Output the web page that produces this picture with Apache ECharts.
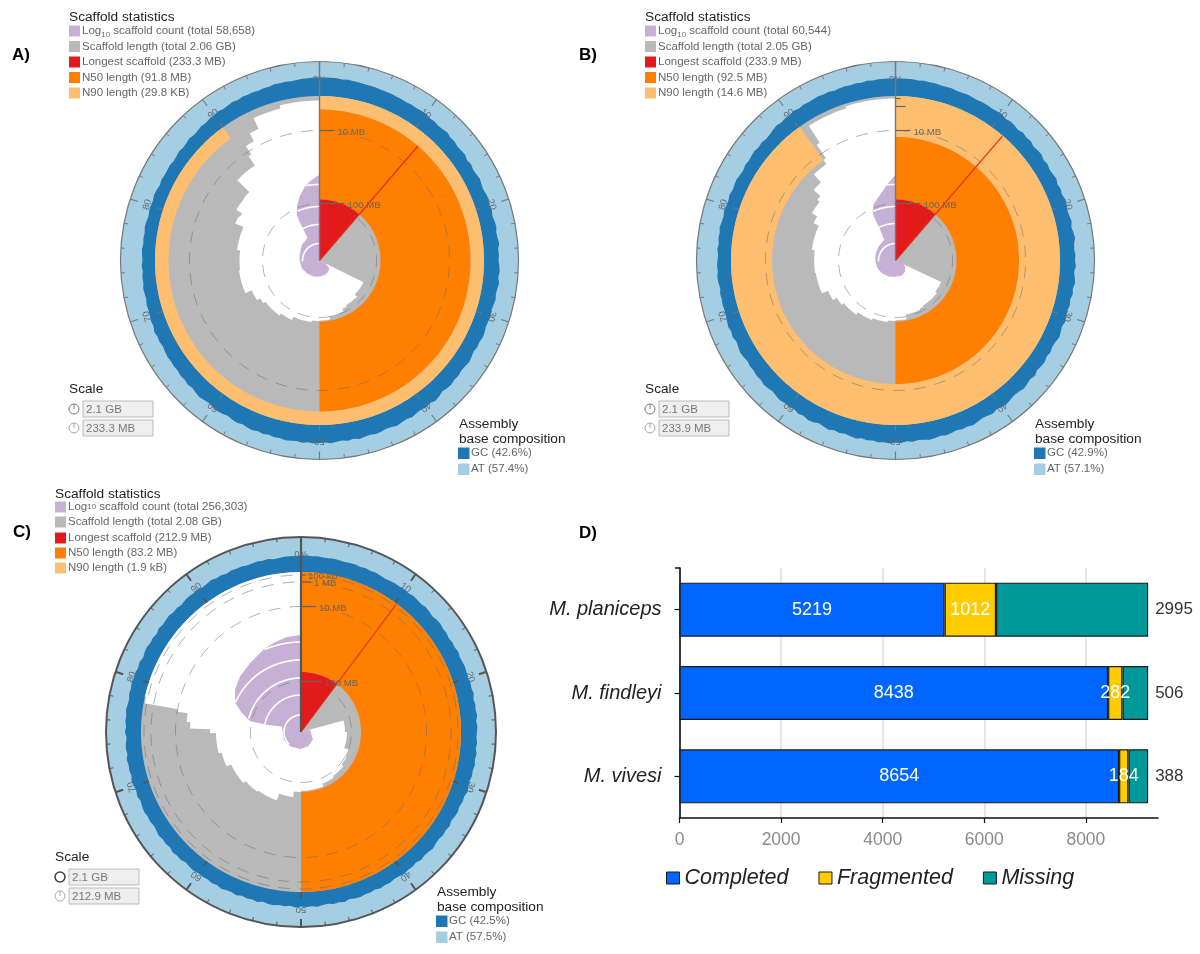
<!DOCTYPE html>
<html><head><meta charset="utf-8">
<style>html,body{margin:0;padding:0;background:#fff}#c{width:1200px;height:954px}</style>
<script src="https://cdn.jsdelivr.net/npm/echarts@6/dist/echarts.min.js"></script>
</head><body><div id="c"></div>
<script>
// ---------- Snail plot data (percent of assembly, radial position on the snail scale) ----------
const percentTicks = [0,10,20,30,40,50,60,70,80,90];
const percentLabels = ['0%','10','20','30','40','50','60','70','80','90'];

// GC outline, one reading per half percent
const gcA = [183,183,183,183,182.5,183,182.5,182.5,182,182,182,181.5,181.5,181.5,181,181,180.5,181,180.5,181,
181.5,180,180.5,179.5,180,181,179.5,180,179,179.5,180,178.5,179.5,178.5,179,180,179,178.5,179.5,180,
179,179.5,178.5,179.5,180,179,179.5,180.5,179,179.5,179,180,180.5,179.5,181,180,179.5,180.5,179.5,179,
180,179.5,179,180,180.5,179.5,180,179,180,181,180,179.5,180.5,180,181,180.5,179.5,181,182,180.5,
181.5,180.5,181,182,181,181.5,182.5,181.5,181,182,182.5,181.5,182,183,181.5,182.5,181.5,182,183,182,
182.5,183,182,183,182,182.5,183,182,182.5,181.5,182.5,181.5,182.5,182,181,182,181.5,180.5,181.5,182,
181.5,180.5,181,182,181,180,181,180,180.5,179.5,180,179.5,180,179.5,178.5,179.5,179,180,178.5,179,
178.5,178,178.5,177.5,178,178.5,177.5,178,177,178,177,177.5,178,177,177.5,177,178,177.5,176.5,177.5,
177.5,177,178,177.5,176.5,177.5,177,177,177.5,176.5,177,178,177,177.5,178.5,177.5,178,179,178.5,179.5,
179.5,180.5,179.5,180,181,180,181,180.5,181,180.5,181,181,182,181.5,182,181.5,182,182.5,182.5,183];
const gcB = [182,182,182,182,181.5,182,181.5,181.5,181,181,181,180.5,180.5,181,180.5,180,180.5,180.5,180,180.5,
181,179.5,180.5,180,179,180.5,179.5,180.5,179,180,180.5,179,180,179,179.5,180.5,179,180,179,180.5,
180,179,179.5,180.5,179,180,181,179.5,179,180,179.5,180.5,179,180,181,179.5,180.5,179,180,179,
179.5,180.5,179,180,181,179.5,179,180,179,180.5,180,179,181,179.5,180.5,181.5,180,179.5,180.5,181.5,
181,180,181.5,180.5,180,181,182,181,181.5,180.5,181.5,182,181,182,182.5,181.5,181,182,181,182.5,
182,183,182,182.5,181.5,182,181,182.5,181.5,180.5,181.5,180.5,182,181,180,181.5,182,180.5,181.5,180,
181,180.5,181.5,180.5,179.5,180.5,181,180,180.5,179.5,180,179,180,180.5,179.5,178.5,180,179,180,179,
178.5,178,178.5,178,178.5,177.5,178.5,179,178,178.5,178,177.5,178.5,177.5,178.5,178,179,178,177.5,178.5,
178,177.5,178.5,177.5,178,178.5,177.5,177,178,177.5,178,178.5,177.5,178.5,177.5,178,179,180,179,180,
180,181,180,181,180.5,181,181.5,181,181.5,180.5,181,181.5,181,181.5,181,182,181.5,182,182,182];
const gcC = [176.5,176.5,176,176.5,176,176,176.5,176,175.5,176,176,175.5,176,175.5,176,175.5,175,175.5,176,175.5,
176,175.5,176.5,176,175.5,176.5,176,175,176,176.5,175.5,176,175,176,175.5,176.5,175.5,176,176.5,176,
175.5,176.5,176,177,175.5,176.5,176,177,175.5,176.5,176,175.5,176.5,175.5,177,176,177,176,176.5,175.5,
176,177,175.5,176,175,176,175.5,174.5,176,175,175.5,174.5,175,176,175,174.5,175.5,174,175,174.5,
175.5,174.5,174,175,174.5,175.5,174,175,174.5,175.5,175,174,175.5,174.5,175,174,174.5,175.5,174.5,175,
174.5,175.5,174,175,174.5,175.5,175,174,175.5,174.5,175,174,175.5,174.5,175,176,174.5,175.5,174.5,175,
174.5,175.5,175,174,175.5,175,176,174.5,175.5,175,176,175,174.5,175.5,175,176,175.5,174.5,176,175,
175.5,176.5,175,176,175.5,176.5,175,176,175.5,174.5,176,175,176,175.5,176.5,175.5,175,176,175.5,176.5,
175.5,176,175,176,174.5,175.5,176,175,175.5,174.5,176,175,175.5,176,175,175.5,174.5,175.5,176,175.5,
176,175,175.5,176.5,175.5,176,175,176,175.5,176,175,175.5,176,175.5,176,175,175.5,176,176,176];

const scaffoldEdgeA = [[32.3,49],[37.2,52],[41.5,53.5],[43,56.4],[47.2,60],[50,60.5],[52,62],[56.9,65.5],[60,68],[64.6,70.4],[66,74],[68.4,81],[73.1,80],[77,83],[81.6,92],[83,90.7],[83.7,97.5],[86,98],[87.3,115],[90.5,126],[90.9,136],[92,145],[93.1,157],[96,160],[100,163]];
const scaffoldEdgeB = [[32,50.5],[35.6,52.7],[41.3,53.9],[42.6,55],[47,59.7],[50,60.5],[52,62],[56,64],[60,67],[64,69.6],[66,74],[68.3,80.6],[72.5,81.3],[77,84.3],[81.8,90],[83.2,96],[85.5,99],[86.3,108],[87.9,118.6],[90.1,123.7],[90.5,140],[90.9,160],[95,162],[100,163]];
const scaffoldEdgeC = [[20.8,44],[25,46],[30.7,50.5],[33,52],[35.8,54.5],[40,56],[43.8,58.8],[50,60],[51.9,65.4],[55.4,72.5],[60,74],[63.5,77],[68.1,82],[71,85],[74.8,91],[75.5,111],[76.4,114.8],[77.6,125],[77.9,158.7],[78.5,160],[100,160]];

const countEdgeA = [[32,0],[32.2,6.3],[35.6,12.3],[39,14.2],[44,15.4],[49.3,16],[55.7,17],[62.5,17.9],[68.5,19.3],[75.5,20],[80.6,21],[86.6,23.6],[92.2,25.4],[92.4,34.6],[92.4,44],[92.7,51],[93.7,58.6],[95.2,67],[96.9,75.4],[98.5,81],[100,85.7]];
const countEdgeB = [[26,0],[26.2,6.3],[34,11.4],[38.5,14.6],[43.6,16.3],[50,16.3],[56.5,17.5],[63,18.6],[68.6,19.6],[75,20.3],[80.7,21],[86,22],[92,23.6],[92.6,34.3],[92.7,47.3],[93,54],[94,59.9],[95.9,66],[98.2,76],[100,85.7]];
const countEdgeC = [[20.8,0],[21,9.3],[34,14],[42.5,16],[50.9,17],[60.4,18],[68.3,18.7],[79.5,20],[78.3,35],[78.3,52],[80,62.3],[81.6,72],[84.1,78.4],[86.8,82.6],[89.9,85.8],[93.2,90.5],[95.2,93.2],[97.6,96],[100,97]];

const countArcsA = [[17,74],[36,92.5],[54,93.4],[76,97.2]];
const countArcsB = [[17,74],[37,92.7],[54,93.1],[76,98.2]];
const countArcsC = [[17,62],[37,78.4],[54,79],[72,81.7],[90,93.4]];

const scaleTicksA = [{r:130,len:15,label:'10 MB'},{r:57,len:25,label:'100 MB'}];
const scaleTicksB = [{r:162,len:5,label:''},{r:154,len:10,label:''},{r:130,len:15,label:'10 MB'},{r:57,len:25,label:'100 MB'}];
const scaleTicksC = [{r:157,len:4,label:'100 kB'},{r:150,len:10,label:'1 MB'},{r:125.5,len:15,label:'10 MB'},{r:50.5,len:21,label:'100 MB'}];

const plots = [
 {center:[319.5,260.5], R:199, axis:'#777', axisW:1.2, inner:164.5, n50:[61,151], n90End:90, longestPct:11.3, longestR:61, redEnd:151,
  gc:gcA, edge:scaffoldEdgeA, count:countEdgeA, arcs:countArcsA, ticks:scaleTicksA, labelR:181},
 {center:[895.5,260.5], R:199, axis:'#777', axisW:1.2, inner:164.5, n50:[61,123.5], n90End:90.1, longestPct:11.3, longestR:61, redEnd:164,
  gc:gcB, edge:scaffoldEdgeB, count:countEdgeB, arcs:countArcsB, ticks:scaleTicksB, labelR:181},
 {center:[301,732], R:195, axis:'#555', axisW:2, inner:160, n50:[60,160], n90End:0, longestPct:10.2, longestR:60, redEnd:160,
  gc:gcC, edge:scaffoldEdgeC, count:countEdgeC, arcs:countArcsC, ticks:scaleTicksC, labelR:178}
];

const snailColors = {at:'#a6cee3', gc:'#1f78b4', grey:'#b9b9b9', n50:'#ff7f00', n90:'#fdbf6f', red:'#e31a1c', count:'#c6b0d6'};

// ---------- Legend text ----------
const legendA = ['Log|10| scaffold count (total 58,658)','Scaffold length (total 2.06 GB)','Longest scaffold (233.3 MB)','N50 length (91.8 MB)','N90 length (29.8 KB)'];
const legendB = ['Log|10| scaffold count (total 60,544)','Scaffold length (total 2.05 GB)','Longest scaffold (233.9 MB)','N50 length (92.5 MB)','N90 length (14.6 MB)'];
const legendC = ['Log|10| scaffold count (total 256,303)','Scaffold length (total 2.08 GB)','Longest scaffold (212.9 MB)','N50 length (83.2 MB)','N90 length (1.9 kB)'];
const legendColors = [snailColors.count,snailColors.grey,snailColors.red,snailColors.n50,snailColors.n90];
const scaleA = ['2.1 GB','233.3 MB'], scaleB = ['2.1 GB','233.9 MB'], scaleC = ['2.1 GB','212.9 MB'];
const baseA = ['GC (42.6%)','AT (57.4%)'], baseB = ['GC (42.9%)','AT (57.1%)'], baseC = ['GC (42.5%)','AT (57.5%)'];

// ---------- BUSCO bars ----------
const species = ['M. planiceps','M. findleyi','M. vivesi'];
const completed = [5219,8438,8654];
const fragmented = [1012,282,184];
const missing = [2995,506,388];
const buscoTicks = [0,2000,4000,6000,8000];

const FONT = '"Liberation Sans", Arial, sans-serif';

function polyLayer(i, rows, fill, z, stepped){
  return {type:'custom', coordinateSystem:'polar', polarIndex:i, z:z, silent:true, animation:false, clip:false,
    data: rows.map(p=>[p[1],p[0]]),
    renderItem:(params,api)=>{
      if(params.dataIndex!==0) return null;
      const pts=[api.coord([0,rows[0][0]])];
      rows.forEach((p,k)=>{
        if(stepped && k>0){
          const a0=rows[k-1][0], r0=rows[k-1][1];
          for(let a=a0;a<p[0];a+=0.4) pts.push(api.coord([r0,a]));
          pts.push(api.coord([r0,p[0]]));
        }
        pts.push(api.coord([p[1],p[0]]));
      });
      return {type:'polygon',shape:{points:pts},style:{fill:fill},silent:true};
    }};
}
function sectorLayer(i, rIn, rOut, a0, a1, fill, z){
  return {type:'custom', coordinateSystem:'polar', polarIndex:i, z:z, silent:true, animation:false, clip:false,
    data:[[rOut,a0,rIn,a1]],
    renderItem:(params,api)=>{
      const ro=api.value(0), s=api.value(1), ri=api.value(2), e=api.value(3), pts=[];
      for(let a=s;a<e;a+=0.25) pts.push(api.coord([ro,a]));
      pts.push(api.coord([ro,e]));
      for(let a=e;a>s;a-=0.25) pts.push(api.coord([ri,a]));
      pts.push(api.coord([ri,s]));
      return {type:'polygon',shape:{points:pts},style:{fill:fill},silent:true};
    }};
}
function arcLayer(i, rows, style, z){ // rows: [r, startPct, endPct]
  return {type:'custom', coordinateSystem:'polar', polarIndex:i, z:z, silent:true, animation:false, clip:false,
    data:rows,
    renderItem:(params,api)=>{
      const r=api.value(0), s=api.value(1), e=api.value(2), pts=[];
      for(let a=s;a<e;a+=0.25) pts.push(api.coord([r,a]));
      pts.push(api.coord([r,e]));
      return {type:'polyline',shape:{points:pts},style:Object.assign({fill:'none'},style),silent:true};
    }};
}
function radialLayer(i, rows, style, z){ // rows: [r0, r1, pct]
  return {type:'custom', coordinateSystem:'polar', polarIndex:i, z:z, silent:true, animation:false, clip:false,
    data:rows,
    renderItem:(params,api)=>{
      const p=api.value(2);
      return {type:'line',shape:{x1:api.coord([api.value(0),p])[0],y1:api.coord([api.value(0),p])[1],x2:api.coord([api.value(1),p])[0],y2:api.coord([api.value(1),p])[1]},style:style,silent:true};
    }};
}

const series=[], polar=[], angleAxis=[], radiusAxis=[];
plots.forEach((P,i)=>{
  polar.push({center:P.center, radius:P.R});
  angleAxis.push({polarIndex:i,min:0,max:100,interval:10,startAngle:90,clockwise:true,z:20,
    axisLine:{show:true,lineStyle:{color:P.axis,width:P.axisW}},
    axisTick:{show:true,inside:true,length:8,lineStyle:{color:P.axis,width:P.axisW}},
    minorTick:{show:true,splitNumber:5,length:4,lineStyle:{color:P.axis,width:1}},
    axisLabel:{show:false},splitLine:{show:false},minorSplitLine:{show:false}});
  radiusAxis.push({polarIndex:i,min:0,max:P.R,show:false,axisLine:{show:false},axisTick:{show:false},axisLabel:{show:false},splitLine:{show:false}});
  let z=2;
  series.push(sectorLayer(i,0,P.R,0,100,snailColors.at,z++));
  series.push(polyLayer(i,P.gc.map((v,k)=>[k/2,v]).concat([[100,P.gc[0]]]),snailColors.gc,z++));
  series.push(sectorLayer(i,0,P.inner,0,100,snailColors.grey,z++));
  if(P.n90End>0) series.push(sectorLayer(i,P.n50[1],P.inner,0,P.n90End,snailColors.n90,z++));
  series.push(sectorLayer(i,P.n50[0],P.n50[1],0,50,snailColors.n50,z++));
  series.push(polyLayer(i,P.edge,'#ffffff',z++,true));
  series.push(polyLayer(i,P.count,snailColors.count,z++));
  series.push(arcLayer(i,P.arcs.map(a=>[a[0],a[1],100]),{stroke:'#fff',lineWidth:1.6},z++));
  series.push(arcLayer(i,P.ticks.filter(t=>t.label).map(t=>[t.r,0,100]),{stroke:'rgba(110,110,110,0.55)',lineWidth:1,lineDash:[12,9]},z++));
  series.push(sectorLayer(i,0,P.longestR,0,P.longestPct,snailColors.red,z++));
  series.push(radialLayer(i,[[0,P.redEnd,P.longestPct]],{stroke:'#e0301a',lineWidth:1.2},z++));
  series.push(radialLayer(i,[[0,P.R,0]],{stroke:P.axis,lineWidth:P.axisW+0.2},z++));
  series.push(radialLayer(i,percentTicks.map(t=>[P.inner,P.inner+6,t]),{stroke:P.axis,lineWidth:P.axisW*0.9},z++));
  // scale ticks and labels
  series.push({type:'custom',coordinateSystem:'polar',polarIndex:i,z:z++,silent:true,animation:false,clip:false,
    data:P.ticks.map(t=>[t.r,0]),
    renderItem:(params,api)=>{
      const t=P.ticks[params.dataIndex], c=api.coord([api.value(0),api.value(1)]);
      return {type:'group',children:[
        {type:'line',shape:{x1:c[0],y1:c[1],x2:c[0]+t.len,y2:c[1]},style:{stroke:'#666',lineWidth:1.2}},
        {type:'text',x:c[0]+t.len+3,y:c[1]+1.5,style:{text:t.label,fill:'#666',font:'9.6px '+FONT,align:'left',verticalAlign:'middle'}}
      ]};
    }});
  // percent labels
  series.push({type:'custom',coordinateSystem:'polar',polarIndex:i,z:z++,silent:true,animation:false,clip:false,
    data:percentTicks.map(t=>[P.labelR,t]),
    renderItem:(params,api)=>{
      const c=api.coord([api.value(0),api.value(1)]);
      return {type:'text',x:c[0],y:c[1],rotation:-api.value(1)/100*2*Math.PI,
        style:{text:percentLabels[params.dataIndex],fill:'#5f6b73',font:'9.5px '+FONT,align:'center',verticalAlign:'middle'}};
    }});
});

// BUSCO stacked bars
const barBase={type:'bar',stack:'busco',barWidth:54,xAxisIndex:0,yAxisIndex:0,animation:false,z:3};
const barBorder=c=>({color:c,borderColor:'#1a1a1a',borderWidth:1.2});
series.push(Object.assign({},barBase,{name:'Completed',data:completed,itemStyle:barBorder('#0066ff'),
  label:{show:true,position:'inside',color:'#fff',fontSize:18,fontFamily:FONT}}));
series.push(Object.assign({},barBase,{name:'Fragmented',data:fragmented,itemStyle:barBorder('#ffcc00'),
  label:{show:true,position:'inside',color:'#fff',fontSize:18,fontFamily:FONT}}));
series.push(Object.assign({},barBase,{name:'Missing',data:missing,itemStyle:barBorder('#009999'),
  label:{show:true,position:'right',distance:7,color:'#333',fontSize:17,fontFamily:FONT}}));

// Text furniture
const graphic=[];
function txt(x,y,t,size,fill,extra){graphic.push({type:'text',x:x,y:y,z:50,silent:true,style:Object.assign({text:t,fill:fill,font:size+'px '+FONT,verticalAlign:'middle'},extra||{})});}
function box(x,y,w,h,fill,stroke){graphic.push({type:'rect',x:x,y:y,z:50,silent:true,shape:{width:w,height:h},style:{fill:fill,stroke:stroke||null,lineWidth:stroke?1:0}});}
function statsBlock(x,ys,items,titleY,subsize){
  txt(x,titleY,'Scaffold statistics',13.7,'#222');
  items.forEach((s,k)=>{
    box(x,ys[k]-5.5,11,11,legendColors[k]);
    const parts=s.split('|');
    if(parts.length===3){
      graphic.push({type:'text',x:x+13,y:ys[k],z:50,silent:true,style:{text:'{a|'+parts[0]+'}{b|'+parts[1]+'}{a|'+parts[2]+'}',verticalAlign:'middle',
        rich:{a:{font:'11.5px '+FONT,fill:'#666'},b:{font:'8px '+FONT,fill:'#666',padding:[subsize,0,0,0]}}}});
    } else txt(x+13,ys[k],s,11.5,'#666');
  });
}
function scaleBlock(x,titleY,y1,y2,vals,dark){
  txt(x,titleY,'Scale',13.7,'#222');
  [y1,y2].forEach((y,k)=>{
    const col=k===0?(dark?'#444':'#777'):'#aaa';
    graphic.push({type:'circle',z:50,silent:true,shape:{cx:x+5,cy:y,r:5},style:{fill:'#fff',stroke:col,lineWidth:dark&&k===0?1.6:1}});
    if(!(dark&&k===0)) graphic.push({type:'line',z:50,silent:true,shape:{x1:x+5,y1:y,x2:x+5,y2:y-5},style:{stroke:col,lineWidth:1}});
    box(x+14,y-8,70,16,'#eee','#bbb');
    txt(x+17,y+0.5,vals[k],11.5,'#777');
  });
}
function baseBlock(x,y,vals,y3,y4,dx){
  txt(x,y,'Assembly',13.7,'#222');
  txt(x,y+15,'base composition',13.7,'#222');
  box(x-1,y3-5.5,11.5,11.5,snailColors.gc); txt(x+dx,y3,vals[0],11.5,'#666');
  box(x-1,y4-5.5,11.5,11.5,snailColors.at); txt(x+dx,y4,vals[1],11.5,'#666');
}
const rowsAB=[31,46.5,62,77.5,93], rowsC=[507,522,538,553,568];
statsBlock(69,rowsAB,legendA,17,8);
statsBlock(645,rowsAB,legendB,17,8);
statsBlock(55,rowsC,legendC,494,0);
scaleBlock(69,389,409,428,scaleA,false);
scaleBlock(645,389,409,428,scaleB,false);
scaleBlock(55,857,877,896,scaleC,true);
baseBlock(459,424,baseA,453,469,12);
baseBlock(1035,424,baseB,453,469,12);
baseBlock(437,892,baseC,921,937,12);
[['A)',12,55],['B)',579,55],['C)',13,532],['D)',579,533]].forEach(a=>{
  graphic.push({type:'text',x:a[1],y:a[2],z:50,silent:true,style:{text:a[0],fill:'#000',font:'bold 17px '+FONT,verticalAlign:'middle'}});
});
graphic.push({type:'line',z:50,silent:true,shape:{x1:675,y1:568,x2:680,y2:568},style:{stroke:'#111',lineWidth:1.5}});

const chart=echarts.init(document.getElementById('c'),null,{renderer:'canvas'});
chart.setOption({
  animation:false, backgroundColor:'#fff',
  polar:polar, angleAxis:angleAxis, radiusAxis:radiusAxis,
  grid:[{left:679.5,right:42,top:568,bottom:136}],
  xAxis:[{type:'value',min:0,max:9420,interval:2000,
    axisLine:{show:true,lineStyle:{color:'#111',width:1.6}},
    axisTick:{show:true,length:5,customValues:buscoTicks,lineStyle:{color:'#111',width:1.2}},
    axisLabel:{customValues:buscoTicks,color:'#8a8a8a',fontSize:17.5,fontFamily:FONT,margin:13,formatter:v=>String(v)},
    splitLine:{show:true,lineStyle:{color:'#dcdcdc',width:1.5}}}],
  yAxis:[{type:'category',data:species,inverse:true,
    axisLine:{show:true,lineStyle:{color:'#111',width:1.6}},
    axisTick:{show:true,length:5,alignWithLabel:true,lineStyle:{color:'#111',width:1.2}},
    axisLabel:{color:'#222',fontSize:20,fontStyle:'italic',fontFamily:FONT,margin:18}}],
  legend:[{data:['Completed','Fragmented','Missing'],left:666,top:867,padding:0,itemWidth:13,itemHeight:12,itemGap:30,
    icon:'rect',textStyle:{fontSize:21.5,fontStyle:'italic',color:'#222',fontFamily:FONT},selectedMode:false,
    itemStyle:{borderColor:'#1a1a1a',borderWidth:1}}],
  graphic:graphic,
  series:series
});
</script></body></html>
